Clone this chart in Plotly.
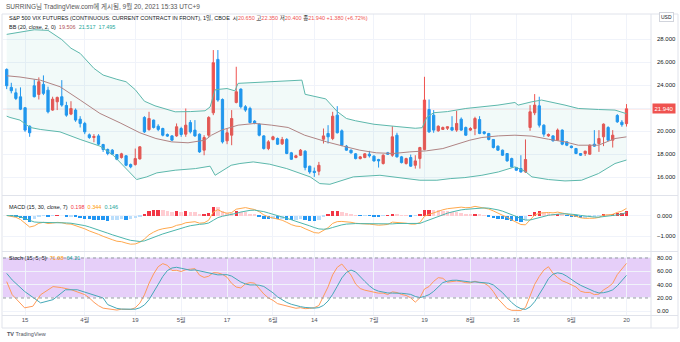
import numpy as np
import pandas as pd
import plotly.graph_objects as go

# ---------------- data ----------------
start_date = "2021-03-09"
end_date = "2021-09-20"
holidays = ["2021-04-02", "2021-05-31", "2021-07-05", "2021-09-06"]
dates = [d for d in pd.bdate_range(start_date, end_date) if d.strftime("%Y-%m-%d") not in holidays]

opens = [25.36, 23.80, 23.33, 22.98, 22.03, 20.43, 23.94, 23.19, 24.06, 23.56,
         21.83, 22.55, 22.99, 22.23, 21.48, 21.83, 21.04, 20.67, 19.68, 19.45,
         19.59, 18.84, 18.41, 18.35, 17.97, 17.71, 17.86, 17.10, 17.10, 17.59,
         21.19, 20.14, 20.96, 20.43, 20.23, 19.71, 19.59, 19.59, 20.23, 19.74,
         20.75, 20.09, 19.74, 18.35, 19.65, 21.59, 26.23, 22.75, 19.16, 19.65,
         22.49, 23.65, 22.12, 21.97, 20.87, 20.61, 19.59, 18.49, 19.28, 19.36,
         18.90, 19.28, 18.12, 17.71, 17.91, 18.26, 16.96, 16.52, 16.52, 19.30,
         19.80, 19.36, 21.39, 20.03, 18.70, 18.35, 18.03, 17.62, 17.71, 18.00,
         17.83, 17.54, 17.19, 18.12, 17.91, 19.65, 17.77, 17.19, 17.71, 17.04,
         17.62, 18.41, 21.88, 21.39, 20.03, 20.15, 20.25, 20.32, 20.09, 21.04,
         20.32, 20.09, 20.23, 21.01, 19.94, 19.80, 19.28, 18.70, 18.35, 18.06,
         17.62, 16.84, 16.75, 16.46, 20.32, 21.59, 22.20, 20.52, 19.59, 19.59,
         19.22, 20.09, 19.07, 18.70, 18.49, 18.06, 18.06, 18.00, 18.87, 18.93,
         19.51, 20.32, 19.22, 21.36, 20.78, 20.65]
highs = [25.45, 24.20, 23.71, 23.80, 22.10, 20.50, 24.49, 24.67, 24.84, 23.86,
         22.99, 23.00, 24.43, 22.55, 22.60, 21.97, 21.30, 20.81, 19.80, 19.74,
         19.74, 18.90, 18.49, 18.45, 18.00, 18.12, 17.91, 17.19, 18.49, 18.70,
         21.30, 21.68, 21.00, 20.60, 20.30, 19.80, 19.65, 20.67, 20.38, 21.97,
         20.96, 20.96, 19.80, 19.65, 21.30, 27.04, 27.04, 22.84, 20.23, 21.83,
         25.59, 23.71, 22.26, 22.12, 20.96, 20.67, 19.65, 19.22, 19.60, 19.45,
         19.50, 19.40, 18.20, 17.95, 18.45, 18.35, 17.00, 16.84, 17.33, 20.23,
         20.52, 21.68, 22.17, 20.15, 18.80, 18.40, 18.10, 17.85, 18.10, 18.29,
         17.90, 17.60, 18.00, 18.20, 20.43, 19.86, 17.85, 17.70, 17.97, 17.91,
         18.64, 24.72, 22.75, 21.83, 20.50, 20.40, 20.40, 21.30, 21.77, 21.19,
         20.40, 20.35, 21.25, 21.30, 20.00, 19.85, 19.30, 18.75, 18.40, 18.10,
         17.70, 16.90, 17.91, 19.28, 22.26, 23.22, 22.99, 20.60, 19.80, 19.65,
         20.23, 20.15, 19.10, 18.75, 18.55, 18.10, 18.30, 18.85, 20.09, 20.09,
         20.67, 20.43, 20.09, 21.48, 20.96, 22.35]
lows = [23.65, 23.28, 22.70, 21.83, 19.94, 19.51, 22.93, 22.75, 23.13, 21.54,
        21.77, 21.83, 22.12, 21.25, 21.39, 20.81, 20.32, 19.74, 19.33, 19.04,
        18.78, 18.20, 17.91, 17.95, 17.48, 17.62, 16.96, 16.78, 17.01, 17.54,
        19.85, 20.03, 20.23, 20.00, 19.55, 19.50, 19.13, 19.51, 19.51, 19.51,
        19.80, 19.51, 18.12, 17.91, 19.51, 21.39, 22.55, 18.93, 18.87, 18.78,
        22.41, 21.97, 21.68, 20.67, 20.60, 19.55, 18.40, 18.35, 19.20, 18.80,
        18.80, 18.00, 17.50, 17.65, 17.85, 16.60, 16.30, 16.03, 16.17, 18.93,
        18.93, 19.22, 19.80, 18.70, 18.30, 18.05, 17.55, 17.55, 17.65, 17.71,
        17.35, 16.84, 17.10, 17.95, 17.77, 17.71, 17.20, 17.10, 16.90, 16.75,
        16.75, 18.35, 19.85, 19.86, 19.95, 20.10, 20.10, 20.00, 19.94, 20.03,
        19.60, 20.00, 19.65, 19.74, 19.70, 19.20, 18.50, 18.30, 17.85, 17.35,
        16.85, 16.55, 16.40, 16.38, 20.03, 21.39, 20.32, 19.51, 19.50, 19.10,
        19.16, 18.78, 18.70, 18.50, 18.00, 17.85, 17.85, 17.95, 18.64, 18.20,
        18.70, 19.16, 18.58, 20.72, 20.38, 20.40]
closes = [23.94, 23.51, 22.84, 21.91, 20.09, 19.86, 22.99, 24.29, 23.28, 21.68,
          22.78, 22.93, 22.26, 21.39, 21.97, 20.96, 20.67, 19.94, 19.45, 19.54,
          18.87, 18.41, 18.06, 18.00, 17.56, 18.03, 17.04, 16.90, 17.62, 18.64,
          19.94, 21.10, 20.32, 20.15, 19.65, 19.57, 19.22, 20.38, 19.71, 20.52,
          19.94, 19.59, 18.20, 19.45, 21.19, 25.94, 22.70, 19.07, 19.86, 21.10,
          23.42, 22.12, 21.83, 20.75, 20.72, 19.65, 18.49, 19.07, 19.51, 18.87,
          19.28, 18.06, 17.56, 17.86, 18.35, 16.84, 16.46, 16.41, 17.04, 19.59,
          19.51, 21.30, 19.86, 18.78, 18.35, 18.12, 17.62, 17.77, 18.03, 17.86,
          17.42, 17.42, 17.91, 18.00, 19.51, 17.77, 17.27, 17.62, 16.96, 17.42,
          18.58, 22.70, 19.94, 20.09, 20.43, 20.32, 20.38, 20.09, 20.67, 20.09,
          19.65, 20.23, 21.10, 19.80, 19.80, 19.28, 18.58, 18.35, 17.91, 17.42,
          16.90, 16.61, 16.46, 17.54, 21.68, 22.26, 20.52, 19.74, 19.71, 19.16,
          20.09, 18.87, 18.78, 18.58, 18.06, 17.91, 18.26, 18.78, 18.70, 19.36,
          20.61, 19.22, 19.65, 20.81, 20.56, 21.94]

# Bollinger bands (bar index, value)
bb_upper_x = [0, 3, 6, 9, 12, 14, 16, 19, 21, 24, 26, 28, 30, 32.3, 36.7, 40, 43.2, 44.3,
              45.4, 48, 49.7, 50.4, 54, 58, 61.3, 64.3, 65, 68, 69.5, 72, 74, 76, 80, 85,
              89, 90.5, 91.5, 93, 96, 100, 103.5, 107, 110.7, 111.4, 114.4, 116.5, 121.6,
              124.5, 128.9, 132.5, 135]
bb_upper = [28.4, 28.6, 28.8, 28.75, 27.95, 27.2, 26.75, 25.45, 24.87, 24.5, 24.29, 23.6,
            22.6, 22.2, 21.68, 21.7, 21.77, 22.1, 23.6, 23.7, 23.5, 24.15, 24.23, 24.3,
            24.38, 24.43, 23.2, 22.95, 22.8, 21.7, 21.1, 20.9, 20.6, 20.4, 20.25, 20.3,
            21.2, 21.6, 21.7, 21.97, 22.12, 22.26, 22.49, 22.26, 22.55, 22.7, 22.26,
            21.97, 21.88, 21.83, 21.517]
bb_lower_x = [0, 0.7, 2.9, 5.1, 7.3, 11.6, 16, 20.3, 23.2, 26.1, 28.3, 30.5, 32.7, 36.7,
              41.1, 44.3, 45.4, 48.9, 50.8, 53.7, 57.3, 61, 63.9, 66.1, 68.2, 70.4, 75.5,
              81.3, 90, 93.7, 96.6, 99.8, 103.5, 107.1, 110.7, 112.9, 114.4, 118, 121.6,
              125.2, 128.9, 132.5, 135]
bb_lower = [21.3, 21.19, 20.96, 20.32, 20.15, 19.94, 19.28, 18.7, 17.91, 16.75, 15.8,
            16.03, 16.38, 16.61, 16.75, 16.96, 16.17, 17.04, 17.19, 17.33, 17.13, 16.75,
            16.32, 16.03, 15.45, 15.39, 16.03, 16.17, 15.74, 15.74, 15.88, 15.97, 16.17,
            16.46, 16.9, 16.52, 16.03, 15.8, 15.68, 15.74, 16.32, 17.19, 17.495]
bb_basis_x = [0, 2.9, 7.3, 11.6, 16, 20.3, 24.7, 29, 32.5, 35.9, 39.5, 43.2, 44.6, 46.8,
              50.4, 54.1, 57.7, 61.3, 64.9, 66.1, 69.7, 73.3, 76.9, 80.5, 84.2, 87.8,
              91.4, 95, 98.6, 100.9, 103.5, 107.1, 110.7, 114.4, 118, 121.6, 124.5,
              128.9, 132.5, 135]
bb_basis = [24.81, 24.7, 24.43, 23.86, 22.7, 21.54, 20.72, 19.86, 19.36, 19.07, 18.99,
            19.22, 19.65, 20.09, 20.52, 20.67, 20.52, 20.32, 19.65, 19.5, 19.07, 18.7,
            18.35, 18.12, 18.06, 18.2, 18.29, 18.49, 18.93, 19.22, 19.45, 19.59, 19.65,
            19.57, 19.3, 19.07, 18.78, 18.78, 19.36, 19.506]

# Stoch values for the first bars (before enough history exists)
stoch_k_early_x = [0, 1.2, 3.9, 5.7, 7.4, 10.1, 11.9, 14.1, 17]
stoch_k_early = [44.5, 24.9, 5.2, 7.6, 24.9, 37.1, 35.6, 32.3, 25.0]
stoch_d_early_x = [0, 1.2, 3.9, 7.4, 10.1, 12.8, 15.4, 19, 21]
stoch_d_early = [56.9, 47.0, 29.8, 12.6, 17.5, 32.3, 32.3, 24.9, 20.0]

tick_dates = ["2021-03-15", "2021-04-01", "2021-04-19", "2021-05-03", "2021-05-17",
              "2021-06-01", "2021-06-14", "2021-07-01", "2021-07-19", "2021-08-02",
              "2021-08-16", "2021-09-01", "2021-09-20"]
tick_text = ["15", "4월", "19", "5월", "17", "6월", "14", "7월", "19", "8월", "16", "9월", "20"]

last_ohlc = ["20.650", "22.350", "20.400", "21.940"]
last_change = "+1.380 (+6.72%)"
bb_legend = ["19.506", "21.517", "17.495"]
macd_legend = ["0.198", "0.344", "0.146"]
stoch_legend = ["71.08", "64.21"]
last_price = 21.94

# ---------------- indicators (from the candles) ----------------
n = len(closes)
xi = np.arange(n)
date_str = [d.strftime("%Y-%m-%d") for d in dates]
tick_idx = [date_str.index(d) for d in tick_dates]

c = pd.Series(closes)
h = pd.Series(highs)
lo = pd.Series(lows)
ema_fast = c.ewm(span=15, adjust=False).mean()
ema_slow = c.ewm(span=30, adjust=False).mean()
macd = ema_fast - ema_slow
signal = macd.ewm(span=7, adjust=False).mean()
hist = macd - signal

RED = "#EF5350"
BLUE = "#2196F3"
hist_colors = []
for k in range(n):
    hv = hist[k]
    pv = hist[k - 1] if k > 0 else hv
    if hv >= 0:
        hist_colors.append("#F23645" if hv >= pv else "#FFCDD2")
    else:
        hist_colors.append("#2196F3" if hv <= pv else "#BBDEFB")

ll = lo.rolling(15).min()
hh = h.rolling(15).max()
raw = 100 * (c - ll) / (hh - ll)
stoch_k = raw.rolling(5).mean()
stoch_d = stoch_k.rolling(5).mean()
K0, D0 = 18, 22
k_x = list(stoch_k_early_x) + list(xi[K0:])
k_y = list(stoch_k_early) + list(stoch_k[K0:])
d_x = list(stoch_d_early_x) + list(xi[D0:])
d_y = list(stoch_d_early) + list(stoch_d[D0:])

# ---------------- geometry ----------------
W_FIG, H_FIG = 680, 342
PL, PR, PT, PB = 3, 651, 14, 315
PW, PH = PR - PL, PB - PT
step = 4.591
x_first = 6.7
x_lo = -(x_first - PL) / step
x_hi = x_lo + PW / step


def fx(p):
    return (p - PL) / PW


def fy(p):
    return (PB - p) / PH


def dom(top, bottom):
    return [fy(bottom), fy(top)]


FONT = "Liberation Sans, Noto Sans CJK KR, sans-serif"
GRID = "#F0F3FA"
TXT = "#131722"
TEAL_BB = "#5DB8AC"
BASIS = "#B08484"
ORANGE = "#FFA94D"
TEAL = "#4DB6AC"

fig = go.Figure()

# Bollinger bands
fig.add_trace(go.Scatter(x=bb_upper_x, y=bb_upper, mode="lines",
                         line=dict(color=TEAL_BB, width=1), hoverinfo="skip",
                         xaxis="x", yaxis="y"))
fig.add_trace(go.Scatter(x=bb_lower_x, y=bb_lower, mode="lines", fill="tonexty",
                         fillcolor="rgba(38,166,154,0.06)",
                         line=dict(color=TEAL_BB, width=1), hoverinfo="skip",
                         xaxis="x", yaxis="y"))
fig.add_trace(go.Scatter(x=bb_basis_x, y=bb_basis, mode="lines",
                         line=dict(color=BASIS, width=1), hoverinfo="skip",
                         xaxis="x", yaxis="y"))

# candles
fig.add_trace(go.Candlestick(x=xi, open=opens, high=highs, low=lows, close=closes,
                             increasing=dict(line=dict(color=RED, width=1), fillcolor=RED),
                             decreasing=dict(line=dict(color=BLUE, width=1), fillcolor=BLUE),
                             whiskerwidth=0, hoverinfo="skip", xaxis="x", yaxis="y"))

# MACD
fig.add_trace(go.Bar(x=xi, y=hist, marker=dict(color=hist_colors, line=dict(width=0)),
                     width=0.75, hoverinfo="skip", xaxis="x2", yaxis="y2"))
fig.add_trace(go.Scatter(x=xi, y=macd, mode="lines", line=dict(color=ORANGE, width=1),
                         hoverinfo="skip", xaxis="x2", yaxis="y2"))
fig.add_trace(go.Scatter(x=xi, y=signal, mode="lines", line=dict(color=TEAL, width=1),
                         hoverinfo="skip", xaxis="x2", yaxis="y2"))

# Stoch
fig.add_trace(go.Scatter(x=k_x, y=k_y, mode="lines", line=dict(color="#FF9B5A", width=1),
                         hoverinfo="skip", xaxis="x3", yaxis="y3"))
fig.add_trace(go.Scatter(x=d_x, y=d_y, mode="lines", line=dict(color="#45A9B8", width=1),
                         hoverinfo="skip", xaxis="x3", yaxis="y3"))

price_ticks = [16, 18, 20, 22, 24, 26, 28]
price_text = ["16.000", "18.000", "20.000", "", "24.000", "26.000", "28.000"]

axis_common = dict(showline=False, zeroline=False, fixedrange=True,
                   tickfont=dict(family=FONT, size=6, color=TXT))
x_common = dict(range=[x_lo, x_hi], tickvals=tick_idx, ticktext=tick_text,
                showgrid=True, gridcolor=GRID, gridwidth=1, zeroline=False,
                showline=False, fixedrange=True, ticks="")

fig.update_layout(
    width=W_FIG, height=H_FIG,
    margin=dict(l=PL, r=W_FIG - PR, t=PT, b=H_FIG - PB),
    paper_bgcolor="white", plot_bgcolor="white",
    showlegend=False, bargap=0,
    font=dict(family=FONT, color=TXT),
    xaxis=dict(domain=[0, 1], anchor="y", showticklabels=False,
               rangeslider=dict(visible=False), **x_common),
    xaxis2=dict(domain=[0, 1], anchor="y2", matches="x", showticklabels=False, **x_common),
    xaxis3=dict(domain=[0, 1], anchor="y3", matches="x", showticklabels=True,
                tickfont=dict(family=FONT, size=6, color="#50535E"), **x_common),
    yaxis=dict(domain=dom(14, 195), range=[28 - (195 - 39) / 11.52, 28 + (39 - 14) / 11.52],
               side="right", tickvals=price_ticks, ticktext=price_text,
               showgrid=True, gridcolor=GRID, ticklabelstandoff=5, **axis_common),
    yaxis2=dict(domain=dom(196, 251), range=[-(251 - 215.5) / 20.6, (215.5 - 196) / 20.6],
                side="right", tickvals=[-1, 0], tickformat=".3f",
                showgrid=True, gridcolor=GRID, ticklabelstandoff=5, **axis_common),
    yaxis3=dict(domain=dom(252, 315), range=[-(315 - 311.3) / 0.667, 80 + (258 - 252) / 0.667],
                side="right", tickvals=[0, 20, 40, 60, 80], tickformat=".2f",
                showgrid=True, gridcolor=GRID, ticklabelstandoff=5, **axis_common),
)

shapes = []
# stoch band
shapes.append(dict(type="rect", xref="x3 domain", yref="y3", x0=0, x1=1, y0=20, y1=80,
                   fillcolor="#E6CFF9", line=dict(width=0), layer="below"))
for lvl in (20, 80):
    shapes.append(dict(type="line", xref="x3 domain", yref="y3", x0=0, x1=1, y0=lvl, y1=lvl,
                       line=dict(color="#9598A1", width=1, dash="dot"), layer="above"))
# last price line
shapes.append(dict(type="line", xref="x domain", yref="y", x0=0, x1=1, y0=last_price,
                   y1=last_price, line=dict(color="rgba(239,83,80,0.35)", width=1), layer="below"))
# frame & separators
FR = "#E0E3EB"
shapes.append(dict(type="rect", xref="paper", yref="paper", x0=fx(2), x1=fx(678),
                   y0=fy(328), y1=fy(14), line=dict(color=FR, width=1)))
shapes.append(dict(type="line", xref="paper", yref="paper", x0=fx(PR), x1=fx(PR),
                   y0=fy(328), y1=fy(14), line=dict(color=FR, width=1)))
for yy in (195.5, 251.5, 315.5):
    shapes.append(dict(type="line", xref="paper", yref="paper", x0=fx(2), x1=fx(678),
                       y0=fy(yy), y1=fy(yy), line=dict(color=FR, width=1)))
fig.update_layout(shapes=shapes)


def span(txt, col):
    return f'<span style="color:{col}">{txt}</span>'


ann = []


def text(xp, yp, s, size=6, color=TXT, anchor="left"):
    ann.append(dict(xref="paper", yref="paper", x=fx(xp), y=fy(yp), text=s,
                    showarrow=False, xanchor=anchor, yanchor="middle",
                    font=dict(family=FONT, size=size, color=color)))


text(4, 7, "SURRING님 TradingView.com에 게시됨, 9월 20, 2021 15:33 UTC+9", 6.5, "#555")
line1 = ("S&P 500 VIX FUTURES (CONTINUOUS: CURRENT CONTRACT IN FRONT), 1일, CBOE  "
         + "시" + span(last_ohlc[0], RED) + " 고" + span(last_ohlc[1], RED)
         + " 저" + span(last_ohlc[2], RED) + " 종" + span(last_ohlc[3], RED)
         + " " + span(last_change, RED))
text(7, 17.5, line1, 5.5)
text(7, 26.5, "BB (20, close, 2, 0)  " + span(bb_legend[0], "#B2545A") + "  "
     + span(bb_legend[1], "#26A69A") + "  " + span(bb_legend[2], "#26A69A"), 5.5)
text(7, 206.5, "MACD (15, 30, close, 7)  " + span(macd_legend[0], "#F23645") + "  "
     + span(macd_legend[1], "#FF9800") + "  " + span(macd_legend[2], "#26A69A"), 5.5)
text(7, 257.5, "Stoch (15, 5, 5)  " + span(stoch_legend[0], "#FF9800") + "  "
     + span(stoch_legend[1], "#26A69A"), 5.5)
text(5, 334, "<b>TV</b> TradingView", 5.5, "#50535E")

ann.append(dict(xref="paper", yref="paper", x=fx(666), y=fy(17), text="USD",
                showarrow=False, xanchor="center", yanchor="middle",
                font=dict(family=FONT, size=5, color=TXT),
                bordercolor="#D1D4DC", borderwidth=1, borderpad=1, bgcolor="white"))
ann.append(dict(xref="paper", yref="y", x=fx(652), y=last_price, text="21.940",
                showarrow=False, xanchor="left", yanchor="middle",
                font=dict(family=FONT, size=6, color="white"),
                bgcolor=RED, borderpad=1.5))
fig.update_layout(annotations=ann)

fig.write_html("out.html")
